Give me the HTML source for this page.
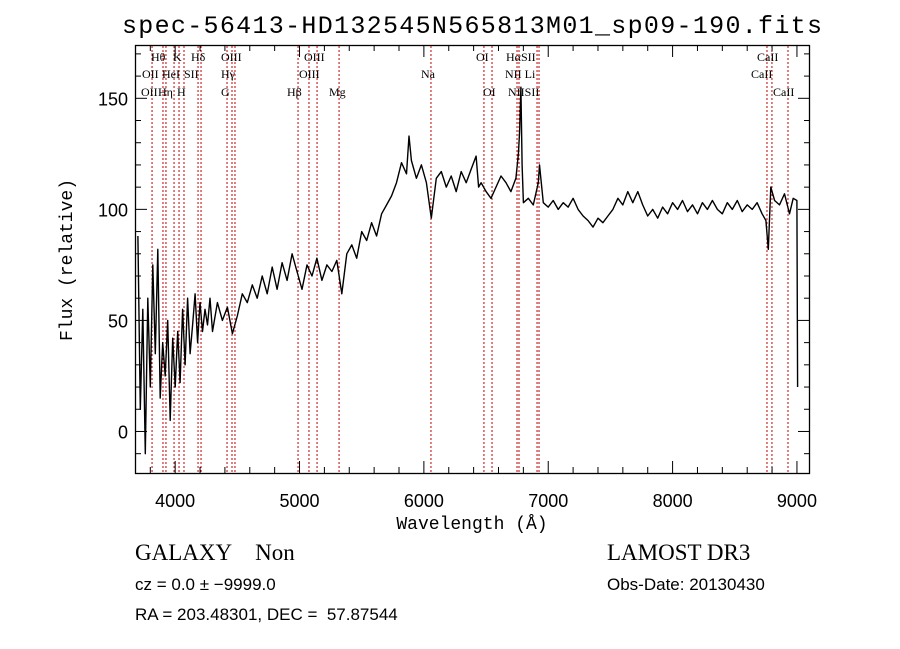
<!DOCTYPE html>
<html><head><meta charset="utf-8"><style>
html,body{margin:0;padding:0;background:#fff;}
svg{display:block;font-family:"Liberation Sans",sans-serif;}
</style></head><body>
<svg id="chart" width="900" height="649" viewBox="0 0 900 649">
<text x="472" y="33" text-anchor="middle" font-size="25" font-family="Liberation Mono, monospace" textLength="700">spec-56413-HD132545N565813M01_sp09-190.fits</text>
<rect x="135.5" y="45.5" width="674" height="428" fill="none" stroke="#000" stroke-width="1.3"/>
<g id="lines"></g>
<g id="ticks"></g>
<g id="labels" font-family="Liberation Serif, serif" font-size="12"></g>
<path id="spec" fill="none" stroke="#000" stroke-width="1.4" stroke-linejoin="round"/>
<text x="472" y="529" text-anchor="middle" font-size="18" font-family="Liberation Mono, monospace">Wavelength (Å)</text>
<text transform="translate(72,260) rotate(-90)" text-anchor="middle" font-size="18" font-family="Liberation Mono, monospace">Flux (relative)</text>
<text x="135" y="560" font-size="23" font-family="Liberation Serif, serif">GALAXY&#160;&#160;&#160;&#160;Non</text>
<text x="135" y="590" font-size="17">cz = 0.0 ± −9999.0</text>
<text x="135" y="620" font-size="17">RA = 203.48301, DEC =&#160;&#160;57.87544</text>
<text x="607" y="560" font-size="23" font-family="Liberation Serif, serif">LAMOST DR3</text>
<text x="607" y="590" font-size="17">Obs-Date: 20130430</text>
</svg>
<script>
const waves=[3700,3720,3740,3760,3780,3800,3820,3840,3860,3880,3900,3920,3940,3960,3980,4000,4020,4040,4060,4080,4100,4120,4140,4160,4180,4200,4220,4240,4260,4280,4300,4340,4380,4420,4460,4500,4540,4580,4620,4660,4700,4740,4780,4820,4860,4900,4940,4980,5020,5060,5100,5140,5180,5220,5260,5300,5340,5380,5420,5460,5500,5540,5580,5620,5660,5700,5740,5780,5820,5860,5880,5900,5940,5980,6020,6060,6100,6140,6180,6220,6260,6300,6340,6380,6420,6440,6460,6500,6540,6580,6620,6660,6700,6740,6760,6770,6780,6790,6800,6840,6880,6920,6930,6960,7000,7040,7080,7120,7160,7200,7240,7280,7320,7360,7400,7440,7480,7520,7560,7600,7640,7680,7720,7760,7800,7840,7880,7920,7960,8000,8040,8080,8120,8160,8200,8240,8280,8320,8360,8400,8440,8480,8520,8560,8600,8640,8680,8720,8750,8770,8790,8820,8860,8900,8940,8970,9000,9005];
const flux=[88,10,55,-10,60,20,75,35,82,15,40,25,50,5,42,20,45,22,55,30,60,35,48,62,40,58,45,55,48,60,45,58,50,56,44,52,62,58,66,60,70,62,74,64,76,68,80,72,64,75,70,78,68,75,72,77,62,80,84,78,90,86,94,88,98,102,106,112,121,116,133,122,114,120,112,96,114,117,110,115,108,117,112,118,124,110,112,108,105,110,115,112,108,114,125,135,155,120,103,105,102,112,120,103,101,104,100,103,101,105,100,97,95,92,96,94,97,100,105,102,108,103,108,102,97,100,96,101,98,103,100,104,99,102,98,103,100,104,100,98,103,100,104,99,102,100,103,98,95,82,110,104,102,107,98,105,104,20];
const xTicks=[4000,5000,6000,7000,8000,9000];
const yTicks=[0,50,100,150];
const lineWaves=[3814,3902,3926,3991,4031,4071,4184,4208,4417,4457,4481,4988,5076,5141,5318,6057,6483,6548,6749,6765,6910,6926,8759,8799,8928];
const NS='http://www.w3.org/2000/svg';
const X0=135,X1=810,W0=3677,W1=9105,Y0=473,Y1=45,F0=-18.7,F1=174;
function sx(w){return X0+(w-W0)/(W1-W0)*(X1-X0);}
function sy(f){return Y0-(f-F0)/(F1-F0)*(Y0-Y1);}
function mk(tag,attrs,parent){const e=document.createElementNS(NS,tag);for(const k in attrs)e.setAttribute(k,attrs[k]);parent.appendChild(e);return e;}
const svg=document.getElementById('chart');
let d='';
for(let i=0;i<waves.length;i++){const f=Math.max(F0,Math.min(F1,flux[i]));d+=(i?'L':'M')+sx(waves[i]).toFixed(1)+' '+sy(f).toFixed(1);}
document.getElementById('spec').setAttribute('d',d);
const lg=document.getElementById('lines');
lineWaves.forEach(w=>{const x=sx(w);
 const l=mk('line',{x1:x,x2:x,y1:46,y2:473,stroke:'#c00000','stroke-width':1,'stroke-dasharray':'2,2'},lg);
 
 
});
const tg=document.getElementById('ticks');
for(let w=3800;w<=9100;w+=200){const x=sx(w);const len=(w%1000===0)?12:6;
 mk('line',{x1:x,x2:x,y1:473,y2:473-len,stroke:'#000'},tg);
 mk('line',{x1:x,x2:x,y1:45,y2:45+len,stroke:'#000'},tg);}
for(let f=-10;f<=170;f+=10){const y=sy(f);const len=(f%50===0)?12:6;
 mk('line',{x1:135,x2:135+len,y1:y,y2:y,stroke:'#000'},tg);
 mk('line',{x1:810,x2:810-len,y1:y,y2:y,stroke:'#000'},tg);}
xTicks.forEach(w=>{const t=mk('text',{x:sx(w),y:507,'text-anchor':'middle','font-size':18},svg);t.textContent=w;
 
 });
yTicks.forEach(f=>{const t=mk('text',{x:128,y:sy(f)+7,'text-anchor':'end','font-size':18},svg);t.textContent=f;
 
 });
const labs=[["Hθ",151,61],["K",173,61],["Hδ",191,61],["OIII",221,61],["OIII",304,61],["OI",476,61],["HαSII",506,61],["CaII",757,61],
["OII",142,78],["HeI",162,78],["SII",184,78],["Hγ",221,78],["OIII",299,78],["Na",421,78],["NII Li",505,78],["CaII",751,78],
["OII",141,96],["Hη",158,96],["H",177,96],["G",221,96],["Hβ",287,96],["Mg",329,96],["OI",483,96],["NIISII",508,96],["CaII",773,96]];
const lb=document.getElementById('labels');
labs.forEach(a=>{const t=mk('text',{x:a[1],y:a[2]},lb);t.textContent=a[0];
 
 });
</script>
</body></html>
